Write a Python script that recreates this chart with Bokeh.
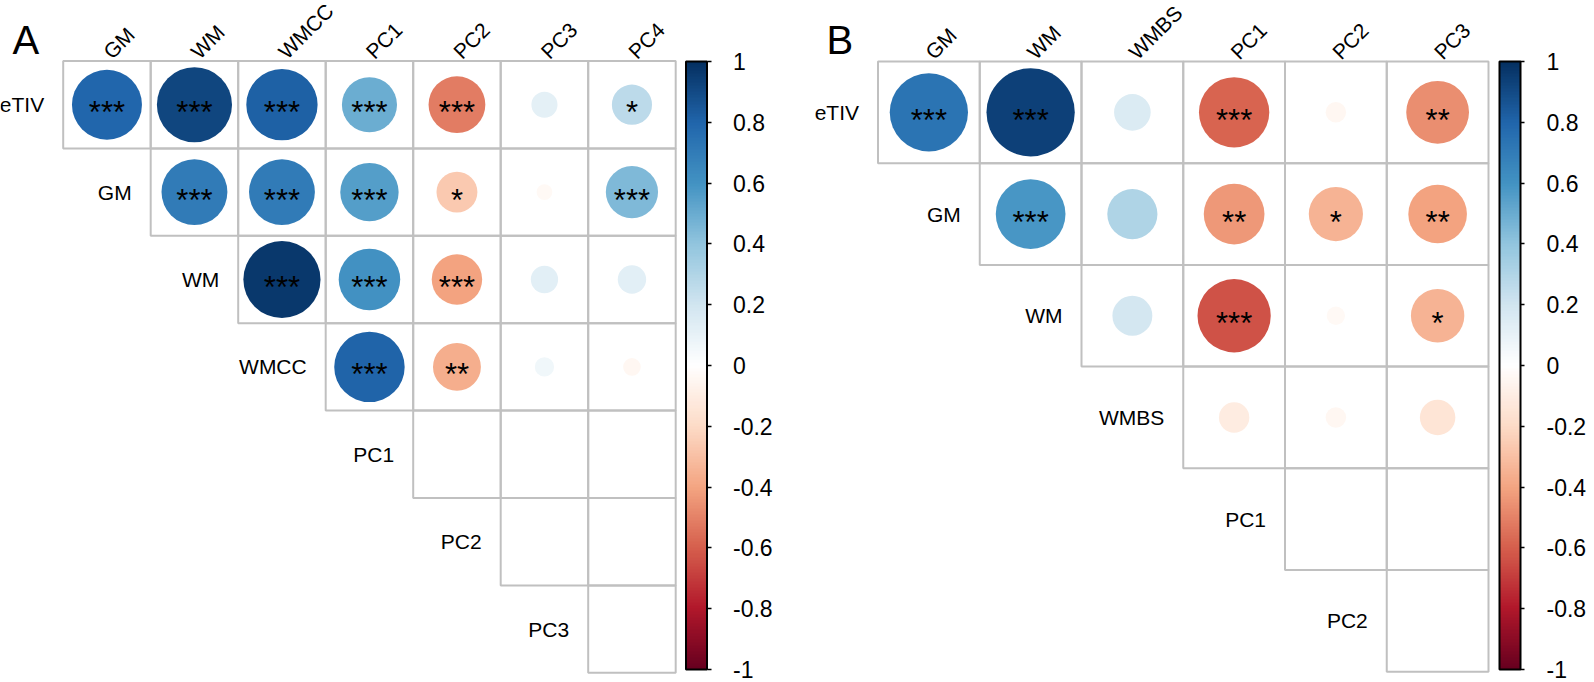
import numpy as np
from bokeh.plotting import figure
from bokeh.models import (ColumnDataSource, Range1d, LinearColorMapper, ColorBar,
                          FixedTicker, CustomJSTickFormatter, Label)
from bokeh.layouts import row
from bokeh.core.properties import value
from bokeh.embed import file_html
from bokeh.resources import INLINE

# ---------------- data ----------------
A_ROWS = ["eTIV", "GM", "WM", "WMCC", "PC1", "PC2", "PC3"]
A_COLS = ["GM", "WM", "WMCC", "PC1", "PC2", "PC3", "PC4"]
A_R = [
    [0.79, 0.91, 0.82, 0.49, -0.52, 0.11, 0.26],
    [0.70, 0.70, 0.55, -0.27, -0.04, 0.44],
    [0.96, 0.61, -0.41, 0.12, 0.13],
    [0.80, -0.37, 0.06, -0.05],
    [0.0, 0.0, 0.0],
    [0.0, 0.0],
    [0.0],
]
A_SIG = [
    ["***", "***", "***", "***", "***", "", "*"],
    ["***", "***", "***", "*", "", "***"],
    ["***", "***", "***", "", ""],
    ["***", "**", "", ""],
    ["", "", ""],
    ["", ""],
    [""],
]

B_ROWS = ["eTIV", "GM", "WM", "WMBS", "PC1", "PC2"]
B_COLS = ["GM", "WM", "WMBS", "PC1", "PC2", "PC3"]
B_R = [
    [0.73, 0.93, 0.16, -0.59, -0.05, -0.47],
    [0.58, 0.30, -0.44, -0.35, -0.41],
    [0.19, -0.64, -0.04, -0.34],
    [-0.11, -0.05, -0.15],
    [0.0, 0.0],
    [0.0],
]
B_SIG = [
    ["***", "***", "", "***", "", "**"],
    ["***", "", "**", "*", "**"],
    ["", "***", "", "*"],
    ["", "", ""],
    ["", ""],
    [""],
]

CB_TICKS = [-1, -0.8, -0.6, -0.4, -0.2, 0, 0.2, 0.4, 0.6, 0.8, 1]

# ---------------- style / layout ----------------
FONT = "Liberation Sans"
TOTAL_W = 1594
H = 682
CB_TOP, CB_BOTTOM = 61, 669
RAMP = ["#67001F", "#B2182B", "#D6604D", "#F4A582", "#FDDBC7", "#FFFFFF",
        "#D1E5F0", "#92C5DE", "#4393C3", "#2166AC", "#053061"]


def ramp(stops, n):
    rgb = np.array([[int(c[i:i + 2], 16) for i in (1, 3, 5)] for c in stops], float)
    out = []
    for t in np.linspace(0, len(stops) - 1, n):
        k = min(int(np.floor(t)), len(stops) - 2)
        f = t - k
        c = rgb[k] * (1 - f) + rgb[k + 1] * f
        out.append("#%02x%02x%02x" % tuple(int(round(v)) for v in c))
    return out


mapper = LinearColorMapper(palette=ramp(RAMP, 200), low=-1, high=1)


def panel(letter, rows, cols, rvals, sigs, g):
    x0, y0, cw, ch = g["x0"], g["y0"], g["cw"], g["ch"]
    rx0, rx1 = g["rx0"], g["rx1"]
    W = rx1 - rx0
    xr = Range1d((rx0 - x0) / cw, (rx1 - x0) / cw)
    yr = Range1d((H - y0) / ch, (0 - y0) / ch)
    p = figure(width=W, height=H, x_range=xr, y_range=yr, output_backend="svg",
               toolbar_location=None, min_border=0, outline_line_color=None,
               x_axis_location=None, y_axis_location=None)
    p.grid.visible = False
    p.background_fill_color = None
    p.border_fill_color = None

    xs, ys, rs, rad, ss = [], [], [], [], []
    for i, rr in enumerate(rvals):
        for k, v in enumerate(rr):
            j = i + k
            xs.append(j + 0.5)
            ys.append(i + 0.5)
            rs.append(v)
            rad.append(0.9 * np.sqrt(abs(v)) / 2)
            ss.append(sigs[i][k])
    src = ColumnDataSource(dict(x=xs, y=ys, r=rs, rad=rad, sig=ss))

    p.rect(x="x", y="y", width=1, height=1, fill_color=None, line_color="#c0c0c0",
           line_width=2, source=src)
    p.circle(x="x", y="y", radius="rad", fill_color={"field": "r", "transform": mapper},
             line_color=None, source=src)
    p.text(x="x", y="y", text="sig", text_font=value(FONT), text_font_size="31px",
           text_align="center", text_baseline="alphabetic", y_offset=8,
           text_color="black", source=src)

    # row labels
    rsrc = ColumnDataSource(dict(x=list(range(len(rows))),
                                 y=[i + 0.5 for i in range(len(rows))], t=rows))
    p.text(x="x", y="y", text="t", source=rsrc, text_font=value(FONT),
           text_font_size="21px", text_align="right", text_baseline="middle",
           x_offset=-19, y_offset=0, text_color="black")
    # column labels
    csrc = ColumnDataSource(dict(x=[j + 0.5 for j in range(len(cols))],
                                 y=[0] * len(cols), t=cols))
    p.text(x="x", y="y", text="t", source=csrc, text_font=value(FONT),
           text_font_size="21px", text_align="left", text_baseline="alphabetic",
           angle=np.pi / 4, x_offset=0, y_offset=-6, text_color="black")

    # panel letter
    p.add_layout(Label(x=(g["lx"] - x0) / cw, y=(g["ly"] - y0) / ch, text=letter,
                       text_font=FONT, text_font_size="40px",
                       text_baseline="alphabetic", text_align="left", text_color="black"))

    cb = ColorBar(color_mapper=mapper,
                  location=(g["cbx"] - rx0, H - CB_BOTTOM),
                  width=21, height=CB_BOTTOM - CB_TOP,
                  padding=0, margin=0,
                  ticker=FixedTicker(ticks=CB_TICKS),
                  formatter=CustomJSTickFormatter(code="return String(Math.round(tick*10)/10)"),
                  major_label_text_font=FONT, major_label_text_font_size="23px",
                  major_label_text_align="left", major_label_text_baseline="middle",
                  major_label_text_color="black",
                  label_standoff=22, major_tick_in=0, major_tick_out=4,
                  major_tick_line_color="black", major_tick_line_width=1.5,
                  bar_line_color="black", bar_line_width=2,
                  background_fill_color=None, border_line_color=None)
    p.add_layout(cb)
    return p


GA = dict(x0=62.7, y0=60.5, cw=87.5, ch=87.4, rx0=0, rx1=800, lx=12, ly=39, cbx=685.5)
GB = dict(x0=877.5, y0=61, cw=101.75, ch=101.7, rx0=800, rx1=TOTAL_W, lx=826, ly=39, cbx=1499)

pA = panel("A", A_ROWS, A_COLS, A_R, A_SIG, GA)
pB = panel("B", B_ROWS, B_COLS, B_R, B_SIG, GB)

layout = row(pA, pB, spacing=0)
open("out.html", "w").write(file_html(layout, INLINE))
